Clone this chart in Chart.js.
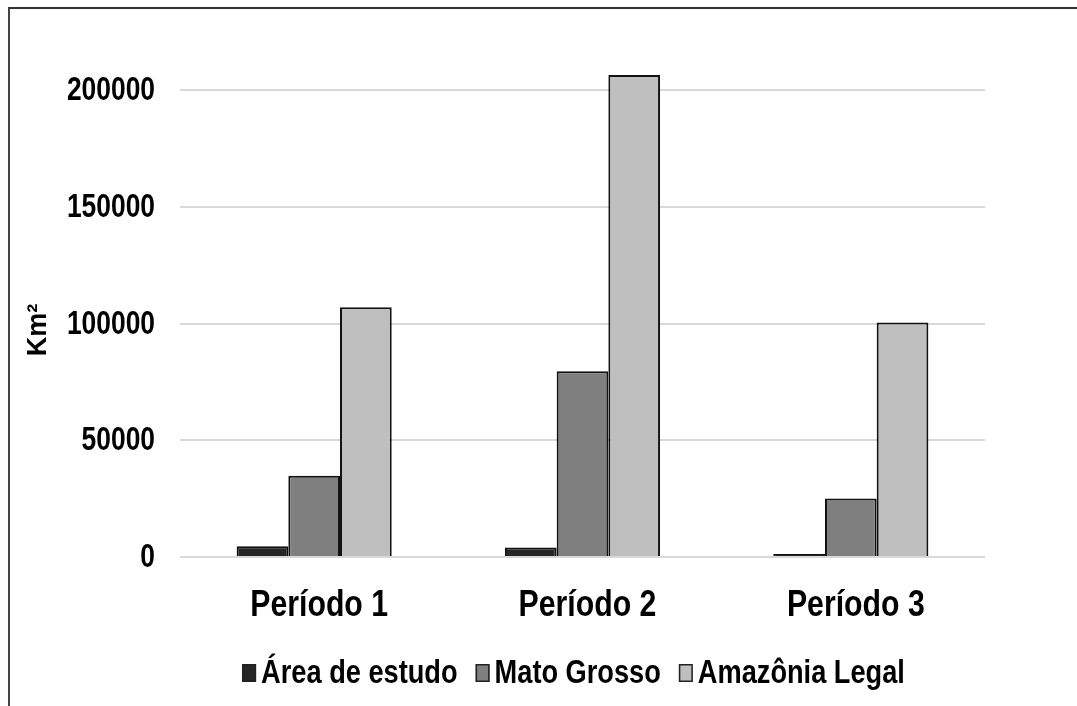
<!DOCTYPE html>
<html>
<head>
<meta charset="utf-8">
<script src="https://cdn.jsdelivr.net/npm/chart.js@4.4.1/dist/chart.umd.min.js"></script>
<style>
  html, body { margin: 0; padding: 0; background: #fff; overflow: hidden; }
  #wrap { position: relative; width: 1077px; height: 706px; }
  #frame { position: absolute; left: 8px; top: 7px; width: 2000px; height: 2000px;
           border-top: 2px solid #333; border-left: 2px solid #444; pointer-events: none; }
  canvas { position: absolute; left: 0; top: 0; }
</style>
</head>
<body>
<div id="wrap">
  <canvas id="areaChart" width="1077" height="706"></canvas>
  <div id="frame"></div>
</div>
<script>
const categories = ['Período 1', 'Período 2', 'Período 3'];
const areaEstudo = [4600, 4100, 1300];
const matoGrosso = [34800, 79600, 25100];
const amazoniaLegal = [107000, 206600, 100500];
const yTicks = [0, 50000, 100000, 150000, 200000];
const seriesNames = ['Área de estudo', 'Mato Grosso', 'Amazônia Legal'];
const seriesColors = ['#262626', '#7f7f7f', '#bfbfbf'];
const yTitle = 'Km²';

const FONT = "'Liberation Sans', Arial, sans-serif";
const SQUEEZE = 0.8; // no narrow font installed, so squeeze the text by hand

function narrowText(ctx, text, x, y, size, align, baseline, sx) {
  ctx.save();
  ctx.translate(x, y);
  ctx.scale(sx, 1);
  ctx.font = 'bold ' + size + 'px ' + FONT;
  ctx.textAlign = align;
  ctx.textBaseline = baseline;
  ctx.fillStyle = '#000';
  ctx.fillText(text, 0, 0);
  ctx.restore();
}

// tick labels, axis title and legend, drawn from the chart's own scales/data
const labelsPlugin = {
  id: 'labelsPlugin',
  afterDraw(chart) {
    const ctx = chart.ctx;
    const xs = chart.scales.x, ys = chart.scales.y;

    ys.ticks.forEach(t => {
      narrowText(ctx, String(t.value), 155, ys.getPixelForValue(t.value) + 1, 33, 'right', 'middle', SQUEEZE);
    });
    chart.data.labels.forEach((lab, i) => {
      narrowText(ctx, lab, xs.getPixelForValue(i) + 5, 606, 36, 'center', 'middle', 0.84);
    });

    ctx.save();
    ctx.translate(39, 330);
    ctx.rotate(-Math.PI / 2);
    narrowText(ctx, yTitle, 0, 0, 27, 'center', 'middle', 1);
    ctx.restore();

    // legend
    const sets = chart.data.datasets;
    ctx.save();
    ctx.font = 'bold 34px ' + FONT;
    const boxW = 14, boxH = 18, gap = 5, itemGap = 18;
    let total = 0;
    sets.forEach((ds, i) => {
      total += boxW + gap + ctx.measureText(ds.label).width * SQUEEZE;
      if (i < sets.length - 1) total += itemGap;
    });
    ctx.restore();
    const area = chart.chartArea;
    let x = (area.left + area.right) / 2 - 9 - total / 2;
    const baseline = 683;
    sets.forEach(ds => {
      ctx.save();
      ctx.fillStyle = ds.backgroundColor;
      ctx.fillRect(x, baseline - boxH - 1, boxW, boxH);
      ctx.strokeStyle = '#222';
      ctx.lineWidth = 1.5;
      ctx.strokeRect(x + 0.75, baseline - boxH - 0.25, boxW - 1.5, boxH - 1.5);
      ctx.font = 'bold 34px ' + FONT;
      const w = ctx.measureText(ds.label).width * SQUEEZE;
      ctx.restore();
      x += boxW + gap;
      narrowText(ctx, ds.label, x, baseline, 34, 'left', 'alphabetic', SQUEEZE);
      x += w + itemGap;
    });
  }
};

const datasets = [areaEstudo, matoGrosso, amazoniaLegal].map((values, i) => ({
  label: seriesNames[i],
  data: values,
  backgroundColor: seriesColors[i],
  borderColor: '#111',
  borderWidth: 2,
  borderSkipped: 'bottom'
}));

const ctx = document.getElementById('areaChart').getContext('2d');
new Chart(ctx, {
  type: 'bar',
  data: { labels: categories, datasets: datasets },
  options: {
    responsive: false,
    animation: false,
    layout: { padding: { left: 0, right: 92, top: 67, bottom: 49 } },
    plugins: {
      legend: { display: false },
      tooltip: { enabled: false }
    },
    datasets: {
      bar: { categoryPercentage: 0.578, barPercentage: 1 }
    },
    scales: {
      x: {
        grid: { display: false },
        border: { display: false },
        ticks: { display: false },
        afterFit: s => { s.height = 100; }
      },
      y: {
        min: 0,
        max: 210000,
        afterBuildTicks: s => { s.ticks = yTicks.map(v => ({ value: v })); },
        grid: { color: '#d9d9d9', lineWidth: 2, drawTicks: false },
        border: { display: false },
        ticks: { display: false },
        afterFit: s => { s.width = 180; }
      }
    }
  },
  plugins: [labelsPlugin]
});
</script>
</body>
</html>
